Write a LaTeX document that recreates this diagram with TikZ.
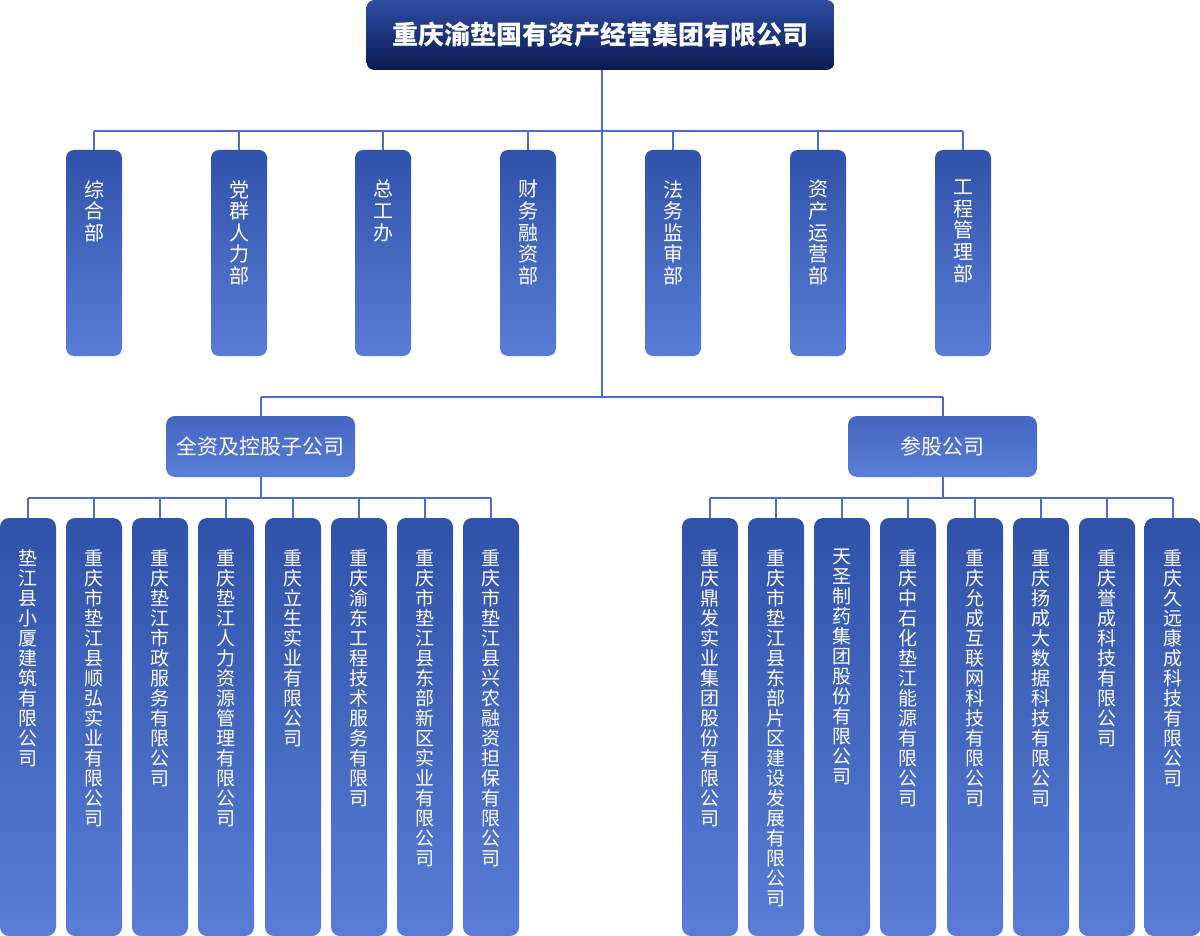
\documentclass[tikz,border=0pt]{standalone}
\usepackage{fontspec}
\setmainfont{Noto Sans CJK SC}
\makeatletter
\def\vtxt#1{\vtxt@a#1\@nil}
\def\vtxt@a#1#2\@nil{#1\ifx\relax#2\relax\else\\\vtxt@a#2\@nil\fi}
\makeatother
\definecolor{linec}{HTML}{4B6CC8}
\definecolor{topA}{HTML}{2E4EA2}
\definecolor{topB}{HTML}{0B1952}
\definecolor{boxA}{HTML}{3052AA}
\definecolor{boxB}{HTML}{597DD7}
\definecolor{subA}{HTML}{4567C2}
\definecolor{subB}{HTML}{5A7ED8}
\begin{document}
\begin{tikzpicture}[x=1pt,y=-1pt,
  conn/.style={draw=linec,line width=2pt},
  topbox/.style={rounded corners=8pt,top color=topA,bottom color=topB,minimum width=468pt,minimum height=70pt,inner sep=0pt,text=white,font=\bfseries\fontsize{26}{30}\selectfont},
  deptbox/.style={rounded corners=8pt,top color=boxA,bottom color=boxB,minimum width=56pt,minimum height=206pt,inner sep=0pt},
  subbox/.style={rounded corners=9pt,top color=subA,bottom color=subB,minimum width=189pt,minimum height=61pt,inner sep=0pt,text=white,font=\fontsize{21}{24}\selectfont},
  leafbox/.style={rounded corners=9pt,top color=boxA,bottom color=boxB,minimum width=56pt,minimum height=418pt,inner sep=0pt},
  depttext/.style={anchor=north,inner sep=0pt,text=white,align=center,font=\fontsize{20}{21.6}\selectfont},
  leaftext/.style={anchor=north,inner sep=0pt,text=white,align=center,font=\fontsize{19}{20}\selectfont}]
\useasboundingbox (0,0) rectangle (1200,936);
\fill[white] (0,0) rectangle (1200,936);

% top
\node[topbox] (top) at (600.5,35) {重庆渝垫国有资产经营集团有限公司};
\coordinate (j1) at (601.5,131);
\coordinate (j2) at (601.5,397);
\coordinate (j3) at (601.5,498);

% departments
\foreach \i/\x in {1/94,2/239,3/383,4/528,5/673,6/818,7/963}{
  \node[deptbox] (d\i) at (\x,253) {};
}
\node[depttext] (d1t) at (d1.north |- 0,180) {\vtxt{综合部}};
\node[depttext] (d2t) at (d2.north |- 0,180) {\vtxt{党群人力部}};
\node[depttext] (d3t) at (d3.north |- 0,180) {\vtxt{总工办}};
\node[depttext] (d4t) at (d4.north |- 0,180) {\vtxt{财务融资部}};
\node[depttext] (d5t) at (d5.north |- 0,180) {\vtxt{法务监审部}};
\node[depttext] (d6t) at (d6.north |- 0,180) {\vtxt{资产运营部}};
\node[depttext] (d7t) at (d7.north |- 0,180) {\vtxt{工程管理部}};

% second level
\node[subbox] (s1) at (260.5,446.5) {全资及控股子公司};
\node[subbox] (s2) at (942.5,446.5) {参股公司};

% leaves
\foreach \i/\x in {1/28,2/94,3/160,4/226,5/293,6/359,7/425,8/491}{
  \node[leafbox] (a\i) at (\x,727) {};
}
\foreach \i/\x in {1/710,2/776,3/842,4/908,5/975,6/1041,7/1107,8/1172.5}{
  \node[leafbox] (b\i) at (\x,727) {};
}
\node[leaftext] (a1t) at (a1.north |- 0,549) {\vtxt{垫江县小厦建筑有限公司}};
\node[leaftext] (a2t) at (a2.north |- 0,549) {\vtxt{重庆市垫江县顺弘实业有限公司}};
\node[leaftext] (a3t) at (a3.north |- 0,549) {\vtxt{重庆垫江市政服务有限公司}};
\node[leaftext] (a4t) at (a4.north |- 0,549) {\vtxt{重庆垫江人力资源管理有限公司}};
\node[leaftext] (a5t) at (a5.north |- 0,549) {\vtxt{重庆立生实业有限公司}};
\node[leaftext] (a6t) at (a6.north |- 0,549) {\vtxt{重庆渝东工程技术服务有限司}};
\node[leaftext] (a7t) at (a7.north |- 0,549) {\vtxt{重庆市垫江县东部新区实业有限公司}};
\node[leaftext] (a8t) at (a8.north |- 0,549) {\vtxt{重庆市垫江县兴农融资担保有限公司}};
\node[leaftext] (b1t) at (b1.north |- 0,549) {\vtxt{重庆鼎发实业集团股份有限公司}};
\node[leaftext] (b2t) at (b2.north |- 0,549) {\vtxt{重庆市垫江县东部片区建设发展有限公司}};
\node[leaftext] (b3t) at (b3.north |- 0,549) {\vtxt{天圣制药集团股份有限公司}};
\node[leaftext] (b4t) at (b4.north |- 0,549) {\vtxt{重庆中石化垫江能源有限公司}};
\node[leaftext] (b5t) at (b5.north |- 0,549) {\vtxt{重庆允成互联网科技有限公司}};
\node[leaftext] (b6t) at (b6.north |- 0,549) {\vtxt{重庆扬成大数据科技有限公司}};
\node[leaftext] (b7t) at (b7.north |- 0,549) {\vtxt{重庆誉成科技有限公司}};
\node[leaftext] (b8t) at (b8.north |- 0,549) {\vtxt{重庆久远康成科技有限公司}};

% connectors
\draw[conn] (top.south -| j1) -- (j2);
\draw[conn] (d1.north |- j1) -- (d7.north |- j1);
\foreach \i in {1,...,7}{ \draw[conn] (d\i.north) -- (d\i.north |- j1); }
\draw[conn] (s1.north |- j2) -- (s2.north |- j2);
\draw[conn] (s1.north) -- (s1.north |- j2);
\draw[conn] (s2.north) -- (s2.north |- j2);
\draw[conn] (s1.south) -- (s1.south |- j3);
\draw[conn] (s2.south) -- (s2.south |- j3);
\draw[conn] (a1.north |- j3) -- (a8.north |- j3);
\draw[conn] (b1.north |- j3) -- (b8.north |- j3);
\foreach \i in {1,...,8}{
  \draw[conn] (a\i.north) -- (a\i.north |- j3);
  \draw[conn] (b\i.north) -- (b\i.north |- j3);
}
\end{tikzpicture}
\end{document}
